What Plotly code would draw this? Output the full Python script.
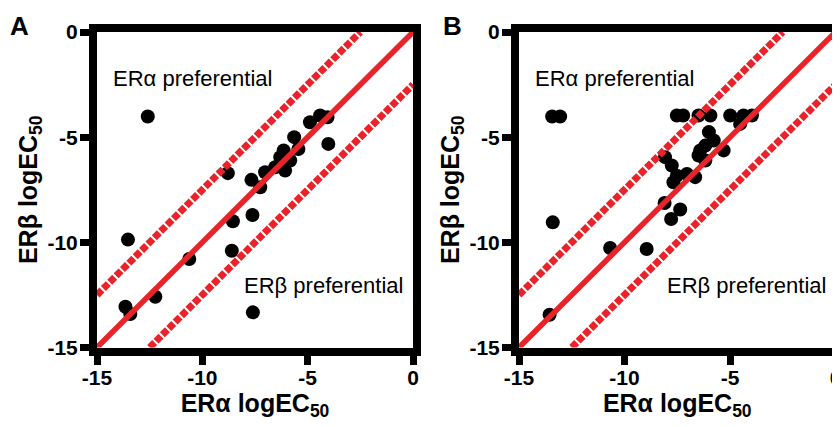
import plotly.graph_objects as go

# Panel A data (ERalpha logEC50, ERbeta logEC50)
a_x = [-12.59, -13.53, -13.65, -13.42, -12.23, -10.62, -8.79, -8.55, -8.6, -7.62, -7.6,
       -7.67, -7.25, -7.02, -6.54, -6.14, -6.07, -5.83, -5.64, -5.44, -4.89, -4.41, -4.06,
       -4.02, -6.3]
a_y = [-4.02, -9.87, -13.06, -13.41, -12.59, -10.79, -6.71, -9.0, -10.4, -8.7, -13.33,
       -7.03, -7.38, -6.67, -6.43, -5.63, -6.59, -6.11, -5.0, -5.56, -4.29, -3.97, -4.05,
       -5.32, -5.95]

# Panel B data
b_x = [-13.43, -13.05, -13.4, -13.55, -10.68, -8.95, -8.1, -7.36, -7.79, -8.08, -7.76,
       -7.52, -7.68, -7.52, -7.22, -6.49, -5.93, -4.99, -4.36, -3.96, -6.0, -5.77, -5.3,
       -6.17, -6.41, -6.49, -6.17, -6.65, -7.04, -4.52]
b_y = [-4.02, -4.02, -9.05, -13.44, -10.27, -10.32, -8.13, -8.44, -8.89, -5.95, -6.35,
       -6.83, -7.14, -3.97, -3.97, -3.97, -3.97, -3.97, -3.97, -3.97, -4.76, -5.16, -5.63,
       -5.4, -5.63, -5.87, -6.11, -6.9, -6.75, -4.37]

tick_vals = [-15, -10, -5, 0]
tick_text = ["-15", "-10", "-5", "0"]
axis_min, axis_max = -15, 0
diag_offsets = [0, 2.5, -2.5]  # identity line and +/- 2.5 log unit bands

x_title = "ERα logEC<sub>50</sub>"
y_title = "ERβ logEC<sub>50</sub>"
panel_labels = ["A", "B"]
region_labels = ["ERα preferential", "ERβ preferential"]

RED = "#ea2229"
FONT = "Arial, Liberation Sans, sans-serif"

# the page body adds an 8px margin; the figure is sized/placed to compensate
W, H, OFF = 832, 419, 8


def xd(p0, p1):
    return [(p0 - OFF) / W, (p1 - OFF) / W]


def yd(top, bottom):
    return [1 - (bottom - OFF) / H, 1 - (top - OFF) / H]


fig = go.Figure()

panels = [(a_x, a_y, "x", "y"), (b_x, b_y, "x2", "y2")]
for px, py, xa, ya in panels:
    fig.add_trace(go.Scatter(x=px, y=py, mode="markers", xaxis=xa, yaxis=ya,
                             marker=dict(color="black", size=14, line=dict(width=0)),
                             showlegend=False, hoverinfo="x+y"))
    for off in diag_offsets:
        x0 = max(axis_min, axis_min - off)
        x1 = min(axis_max, axis_max - off)
        fig.add_trace(go.Scatter(
            x=[x0, x1], y=[x0 + off, x1 + off], mode="lines", xaxis=xa, yaxis=ya,
            line=dict(color=RED, width=5.5 if off == 0 else 7,
                      dash="solid" if off == 0 else "7px,2px"),
            showlegend=False, hoverinfo="skip"))

axis_common = dict(
    range=[axis_min, axis_max], tickvals=tick_vals, ticktext=tick_text,
    showgrid=False, zeroline=False, showline=True, linecolor="black", linewidth=8,
    mirror=True, ticks="outside", ticklen=9, tickwidth=7, tickcolor="black",
    tickfont=dict(family=FONT, size=21, color="black", weight="bold"),
    title_font=dict(family=FONT, size=25, color="black", weight="bold"),
    automargin=False, ticklabeloverflow="allow",
)

fig.update_layout(
    width=W, height=H, margin=dict(l=0, r=0, t=0, b=0),
    paper_bgcolor="white", plot_bgcolor="white",
    xaxis=dict(domain=xd(97, 413), anchor="y", ticklabelstandoff=-5,
               title=dict(text=x_title, standoff=4), **axis_common),
    yaxis=dict(domain=yd(32, 347.5), anchor="x", ticklabelstandoff=-2,
               title=dict(text=y_title, standoff=6), **axis_common),
    xaxis2=dict(domain=xd(519, 835.5), anchor="y2", ticklabelstandoff=-5,
                title=dict(text=x_title, standoff=4), **axis_common),
    yaxis2=dict(domain=yd(32, 347.5), anchor="x2", ticklabelstandoff=-2,
                title=dict(text=y_title, standoff=6), **axis_common),
)

annotations = []
for i, (xr, yr) in enumerate([("x", "y"), ("x2", "y2")]):
    annotations.append(dict(text=region_labels[0], x=-10.46, y=-2.19, xref=xr, yref=yr,
                            showarrow=False, font=dict(family=FONT, size=22, color="black")))
    annotations.append(dict(text=region_labels[1], x=-4.23, y=-12.05, xref=xr, yref=yr,
                            showarrow=False, font=dict(family=FONT, size=22, color="black")))
for label, (cx, cy) in zip(panel_labels, [(19, 26), (452, 26)]):
    annotations.append(dict(text="<b>" + label + "</b>", x=(cx - OFF) / W, y=1 - (cy - OFF) / H,
                            xref="paper", yref="paper", xanchor="center", yanchor="middle",
                            showarrow=False, font=dict(family=FONT, size=26, color="black")))
fig.update_layout(annotations=annotations)

fig.write_html("out.html")
